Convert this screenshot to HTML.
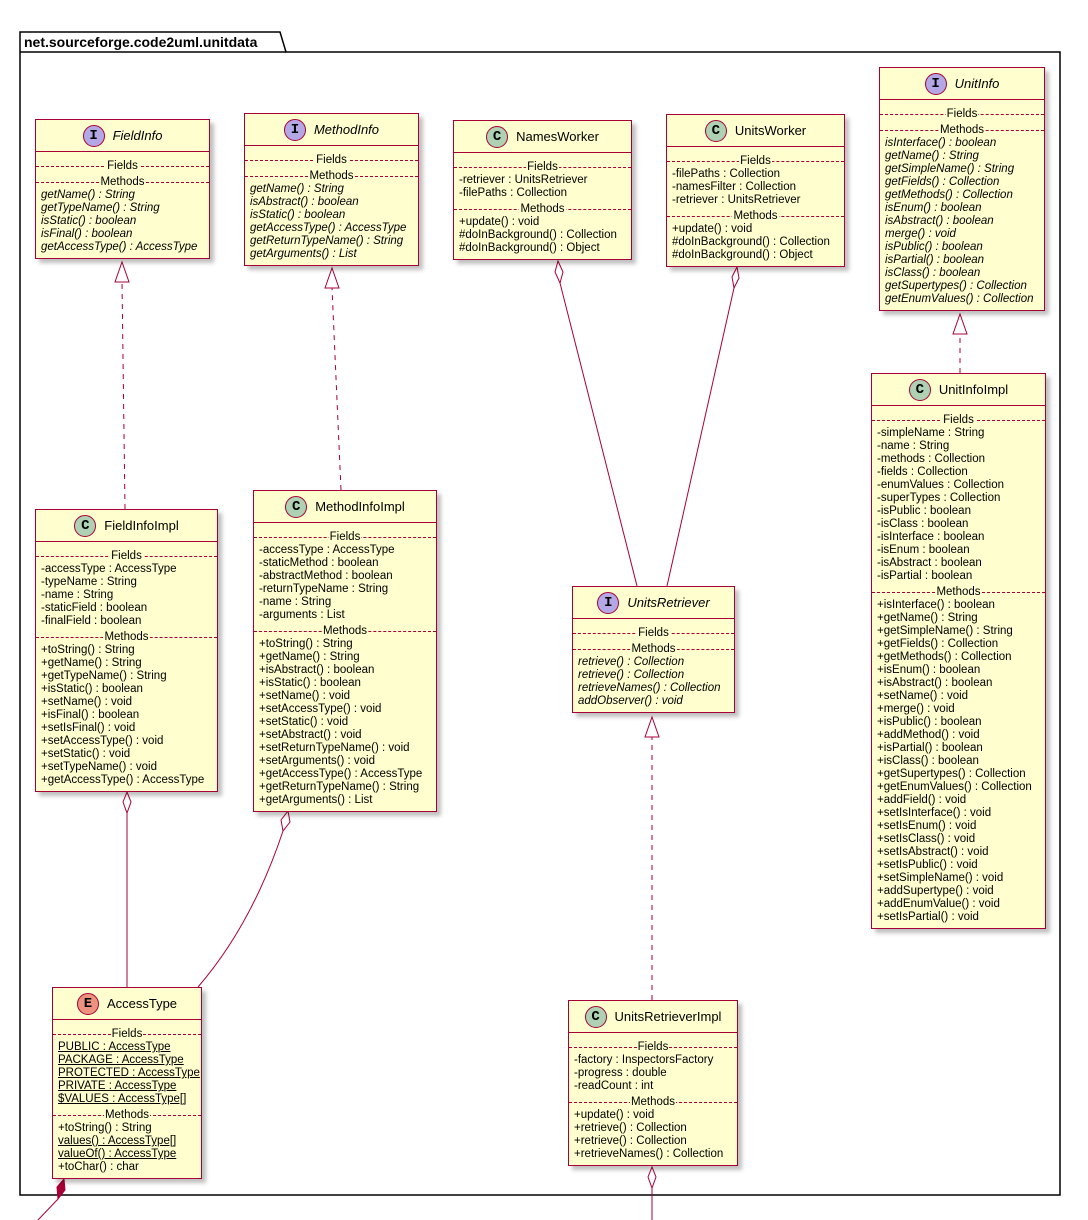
<!DOCTYPE html>
<html><head><meta charset="utf-8"><style>
*{box-sizing:border-box;margin:0;padding:0}
body{width:1088px;height:1220px;background:#fff;position:relative;overflow:hidden;font-family:"Liberation Sans","DejaVu Sans",sans-serif;font-size:11.5px;color:#000}
.box{position:absolute;background:#FEFECE;border:1.5px solid #A80036;box-shadow:4px 4px 4px rgba(0,0,0,0.25);padding-bottom:4px}
.hd{height:32px;border-bottom:1.5px solid #A80036;display:flex;align-items:center;justify-content:center;font-size:13px}
.ic{width:22px;height:22px;border-radius:50%;border:1px solid #A80036;display:inline-flex;align-items:center;justify-content:center;font-weight:bold;font-size:14px;margin-right:8px;font-family:"Liberation Mono",monospace}
.I{background:#B4A7E5}.C{background:#ADD1B2}.E{background:#EB937F}
.it{font-style:italic}
.sep{height:13px;line-height:13px;margin-top:3px;position:relative;text-align:center}
.sep.f{margin-top:8px}
.sep:before{content:"";position:absolute;left:0;right:0;top:6px;border-top:1px dashed #A80036}
.sep span{position:relative;background:#FEFECE;padding:0 1px}
.r{height:13px;line-height:13px;padding-left:5px;white-space:nowrap}
.u{text-decoration:underline}
</style></head><body>
<svg width="1088" height="1220" style="position:absolute;left:0;top:0">
<path d="M20,32 H280 L286,52 H1060 V1195 H20 Z" fill="none" stroke="#000" stroke-width="1.5"/>
<line x1="20" y1="52" x2="286" y2="52" stroke="#000" stroke-width="1.5"/>
<text x="24" y="47" font-family="Liberation Sans" font-size="14" font-weight="bold">net.sourceforge.code2uml.unitdata</text>
<g stroke="#A80036" fill="none" stroke-width="1">
<line x1="125" y1="509" x2="122" y2="282" stroke-dasharray="5,5"/>
<polygon points="122,262 115,282 129,282" fill="#fff"/>
<line x1="341" y1="490" x2="332" y2="288" stroke-dasharray="5,5"/>
<polygon points="332,268 325,288 339,288" fill="#fff"/>
<line x1="960" y1="373" x2="960" y2="334" stroke-dasharray="5,5"/>
<polygon points="960,314 953,334 967,334" fill="#fff"/>
<line x1="652" y1="1000" x2="652" y2="737" stroke-dasharray="5,5"/>
<polygon points="652,717 645,737 659,737" fill="#fff"/>
<line x1="560" y1="283" x2="637" y2="586"/>
<polygon points="558,261 555,272 560,283 563,272" fill="#fff"/>
<line x1="734" y1="288" x2="667" y2="586"/>
<polygon points="737,267 732,277 734,288 739,278" fill="#fff"/>
<line x1="127" y1="813" x2="127" y2="987"/>
<polygon points="127,792 123,802 127,813 131,802" fill="#fff"/>
<path d="M283,831 C260,900 230,950 198,987"/>
<polygon points="288,811 281,820 283,831 290,822" fill="#fff"/>
<line x1="58" y1="1199" x2="38" y2="1220"/>
<polygon points="64,1179 57,1187 58,1199 65,1190" fill="#A80036"/>
<line x1="652" y1="1188" x2="652" y2="1220"/>
<polygon points="652,1167 648,1177 652,1188 656,1177" fill="#fff"/>
</g>
</svg>

<div class="box" style="left:35px;top:119px;width:175px">
<div class="hd"><span class="ic I">I</span><span class="it">FieldInfo</span></div>
<div class="sep f"><span>Fields</span></div>
<div class="sep"><span>Methods</span></div>
<div class="r it">getName() : String</div><div class="r it">getTypeName() : String</div><div class="r it">isStatic() : boolean</div><div class="r it">isFinal() : boolean</div><div class="r it">getAccessType() : AccessType</div>
</div>

<div class="box" style="left:244px;top:113px;width:175px">
<div class="hd"><span class="ic I">I</span><span class="it">MethodInfo</span></div>
<div class="sep f"><span>Fields</span></div>
<div class="sep"><span>Methods</span></div>
<div class="r it">getName() : String</div><div class="r it">isAbstract() : boolean</div><div class="r it">isStatic() : boolean</div><div class="r it">getAccessType() : AccessType</div><div class="r it">getReturnTypeName() : String</div><div class="r it">getArguments() : List</div>
</div>

<div class="box" style="left:453px;top:120px;width:179px">
<div class="hd"><span class="ic C">C</span><span>NamesWorker</span></div>
<div class="sep f"><span>Fields</span></div>
<div class="r">-retriever : UnitsRetriever</div><div class="r">-filePaths : Collection</div>
<div class="sep"><span>Methods</span></div>
<div class="r">+update() : void</div><div class="r">#doInBackground() : Collection</div><div class="r">#doInBackground() : Object</div>
</div>

<div class="box" style="left:666px;top:114px;width:179px">
<div class="hd"><span class="ic C">C</span><span>UnitsWorker</span></div>
<div class="sep f"><span>Fields</span></div>
<div class="r">-filePaths : Collection</div><div class="r">-namesFilter : Collection</div><div class="r">-retriever : UnitsRetriever</div>
<div class="sep"><span>Methods</span></div>
<div class="r">+update() : void</div><div class="r">#doInBackground() : Collection</div><div class="r">#doInBackground() : Object</div>
</div>

<div class="box" style="left:879px;top:67px;width:166px">
<div class="hd"><span class="ic I">I</span><span class="it">UnitInfo</span></div>
<div class="sep f"><span>Fields</span></div>
<div class="sep"><span>Methods</span></div>
<div class="r it">isInterface() : boolean</div><div class="r it">getName() : String</div><div class="r it">getSimpleName() : String</div><div class="r it">getFields() : Collection</div><div class="r it">getMethods() : Collection</div><div class="r it">isEnum() : boolean</div><div class="r it">isAbstract() : boolean</div><div class="r it">merge() : void</div><div class="r it">isPublic() : boolean</div><div class="r it">isPartial() : boolean</div><div class="r it">isClass() : boolean</div><div class="r it">getSupertypes() : Collection</div><div class="r it">getEnumValues() : Collection</div>
</div>

<div class="box" style="left:35px;top:509px;width:183px">
<div class="hd"><span class="ic C">C</span><span>FieldInfoImpl</span></div>
<div class="sep f"><span>Fields</span></div>
<div class="r">-accessType : AccessType</div><div class="r">-typeName : String</div><div class="r">-name : String</div><div class="r">-staticField : boolean</div><div class="r">-finalField : boolean</div>
<div class="sep"><span>Methods</span></div>
<div class="r">+toString() : String</div><div class="r">+getName() : String</div><div class="r">+getTypeName() : String</div><div class="r">+isStatic() : boolean</div><div class="r">+setName() : void</div><div class="r">+isFinal() : boolean</div><div class="r">+setIsFinal() : void</div><div class="r">+setAccessType() : void</div><div class="r">+setStatic() : void</div><div class="r">+setTypeName() : void</div><div class="r">+getAccessType() : AccessType</div>
</div>

<div class="box" style="left:253px;top:490px;width:184px">
<div class="hd"><span class="ic C">C</span><span>MethodInfoImpl</span></div>
<div class="sep f"><span>Fields</span></div>
<div class="r">-accessType : AccessType</div><div class="r">-staticMethod : boolean</div><div class="r">-abstractMethod : boolean</div><div class="r">-returnTypeName : String</div><div class="r">-name : String</div><div class="r">-arguments : List</div>
<div class="sep"><span>Methods</span></div>
<div class="r">+toString() : String</div><div class="r">+getName() : String</div><div class="r">+isAbstract() : boolean</div><div class="r">+isStatic() : boolean</div><div class="r">+setName() : void</div><div class="r">+setAccessType() : void</div><div class="r">+setStatic() : void</div><div class="r">+setAbstract() : void</div><div class="r">+setReturnTypeName() : void</div><div class="r">+setArguments() : void</div><div class="r">+getAccessType() : AccessType</div><div class="r">+getReturnTypeName() : String</div><div class="r">+getArguments() : List</div>
</div>

<div class="box" style="left:572px;top:586px;width:163px">
<div class="hd"><span class="ic I">I</span><span class="it">UnitsRetriever</span></div>
<div class="sep f"><span>Fields</span></div>
<div class="sep"><span>Methods</span></div>
<div class="r it">retrieve() : Collection</div><div class="r it">retrieve() : Collection</div><div class="r it">retrieveNames() : Collection</div><div class="r it">addObserver() : void</div>
</div>

<div class="box" style="left:871px;top:373px;width:175px">
<div class="hd"><span class="ic C">C</span><span>UnitInfoImpl</span></div>
<div class="sep f"><span>Fields</span></div>
<div class="r">-simpleName : String</div><div class="r">-name : String</div><div class="r">-methods : Collection</div><div class="r">-fields : Collection</div><div class="r">-enumValues : Collection</div><div class="r">-superTypes : Collection</div><div class="r">-isPublic : boolean</div><div class="r">-isClass : boolean</div><div class="r">-isInterface : boolean</div><div class="r">-isEnum : boolean</div><div class="r">-isAbstract : boolean</div><div class="r">-isPartial : boolean</div>
<div class="sep"><span>Methods</span></div>
<div class="r">+isInterface() : boolean</div><div class="r">+getName() : String</div><div class="r">+getSimpleName() : String</div><div class="r">+getFields() : Collection</div><div class="r">+getMethods() : Collection</div><div class="r">+isEnum() : boolean</div><div class="r">+isAbstract() : boolean</div><div class="r">+setName() : void</div><div class="r">+merge() : void</div><div class="r">+isPublic() : boolean</div><div class="r">+addMethod() : void</div><div class="r">+isPartial() : boolean</div><div class="r">+isClass() : boolean</div><div class="r">+getSupertypes() : Collection</div><div class="r">+getEnumValues() : Collection</div><div class="r">+addField() : void</div><div class="r">+setIsInterface() : void</div><div class="r">+setIsEnum() : void</div><div class="r">+setIsClass() : void</div><div class="r">+setIsAbstract() : void</div><div class="r">+setIsPublic() : void</div><div class="r">+setSimpleName() : void</div><div class="r">+addSupertype() : void</div><div class="r">+addEnumValue() : void</div><div class="r">+setIsPartial() : void</div>
</div>

<div class="box" style="left:52px;top:987px;width:150px">
<div class="hd"><span class="ic E">E</span><span>AccessType</span></div>
<div class="sep f"><span>Fields</span></div>
<div class="r"><span class="u">PUBLIC : AccessType</span></div><div class="r"><span class="u">PACKAGE : AccessType</span></div><div class="r"><span class="u">PROTECTED : AccessType</span></div><div class="r"><span class="u">PRIVATE : AccessType</span></div><div class="r"><span class="u">$VALUES : AccessType[]</span></div>
<div class="sep"><span>Methods</span></div>
<div class="r">+toString() : String</div><div class="r"><span class="u">values() : AccessType[]</span></div><div class="r"><span class="u">valueOf() : AccessType</span></div><div class="r">+toChar() : char</div>
</div>

<div class="box" style="left:568px;top:1000px;width:170px">
<div class="hd"><span class="ic C">C</span><span>UnitsRetrieverImpl</span></div>
<div class="sep f"><span>Fields</span></div>
<div class="r">-factory : InspectorsFactory</div><div class="r">-progress : double</div><div class="r">-readCount : int</div>
<div class="sep"><span>Methods</span></div>
<div class="r">+update() : void</div><div class="r">+retrieve() : Collection</div><div class="r">+retrieve() : Collection</div><div class="r">+retrieveNames() : Collection</div>
</div>
</body></html>
